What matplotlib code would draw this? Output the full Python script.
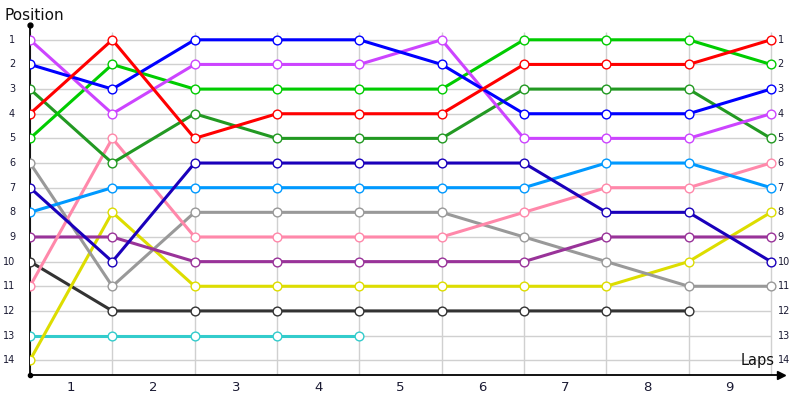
import matplotlib
matplotlib.use("Agg")
import matplotlib.pyplot as plt
import numpy as np

laps = list(range(10))
lap_labels = ["1", "2", "3", "4", "5", "6", "7", "8", "9"]
positions = list(range(1, 15))

red = [4, 1, 5, 4, 4, 4, 2, 2, 2, 1]
blue = [2, 3, 1, 1, 1, 2, 4, 4, 4, 3]
violet = [1, 4, 2, 2, 2, 1, 5, 5, 5, 4]
green = [5, 2, 3, 3, 3, 3, 1, 1, 1, 2]
dark_green = [3, 6, 4, 5, 5, 5, 3, 3, 3, 5]
gray = [6, 11, 8, 8, 8, 8, 9, 10, 11, 11]
dark_blue = [7, 10, 6, 6, 6, 6, 6, 8, 8, 10]
light_blue = [8, 7, 7, 7, 7, 7, 7, 6, 6, 7]
purple = [9, 9, 10, 10, 10, 10, 10, 9, 9, 9]
pink = [11, 5, 9, 9, 9, 9, 8, 7, 7, 6]
black = [10, 12, 12, 12, 12, 12, 12, 12, 12]
yellow = [14, 8, 11, 11, 11, 11, 11, 11, 10, 8]
cyan = [13, 13, 13, 13, 13]

series = [
    (cyan, "#33cccc"),
    (black, "#333333"),
    (yellow, "#dddd00"),
    (gray, "#999999"),
    (purple, "#993399"),
    (pink, "#ff88aa"),
    (light_blue, "#0099ff"),
    (dark_blue, "#1a00bb"),
    (dark_green, "#229922"),
    (green, "#00cc00"),
    (violet, "#cc44ff"),
    (blue, "#0000ff"),
    (red, "#ff0000"),
]

fig = plt.figure(figsize=(8, 4), dpi=100)
ax = fig.add_axes([0.0375, 0.0625, 0.9385, 0.875])
ax.set_xlim(0, 9.12)
ax.set_ylim(14.6, 0.4)

# grid
ax.hlines(positions, 0, 9, colors="#d0d0d0", linewidth=1, zorder=1)
ax.vlines(laps, 0.68, 14.6, colors="#d0d0d0", linewidth=1, zorder=1)

for vals, col in series:
    x = laps[:len(vals)]
    ax.plot(x, vals, color=col, linewidth=2.2, zorder=3, solid_capstyle="round")
    ax.plot(x, vals, linestyle="none", marker="o", markersize=6.3,
            markerfacecolor="white", markeredgecolor=col, markeredgewidth=1,
            zorder=4)

for s in ["top", "right"]:
    ax.spines[s].set_visible(False)
ax.spines["left"].set_linewidth(1.3)
ax.spines["bottom"].set_linewidth(1.3)

ax.set_xticks([])
ax.set_yticks([])

# tick labels
for i, lab in enumerate(lap_labels):
    ax.text(i + 0.5, 14.6 + 0.52, lab, ha="center", va="center",
            fontsize=9.5, color="#1a1a33", clip_on=False)
for p in positions:
    ax.text(-0.18, p, str(p), ha="right", va="center", fontsize=7,
            color="#1a1a33", clip_on=False)
    ax.text(9.08, p, str(p), ha="left", va="center", fontsize=7,
            color="#1a1a33", clip_on=False)

# axis decorations
ax.plot([0], [0.4], marker="o", markersize=3.5, color="black", clip_on=False, zorder=5)
ax.plot([0], [14.6], marker="o", markersize=3, color="black", clip_on=False, zorder=5)
ax.plot([9.12], [14.6], marker=">", markersize=5.5, color="black", clip_on=False, zorder=5)

fig.text(4 / 800, 1 - 15 / 400, "Position", ha="left", va="center",
         fontsize=11, color="#111111")
ax.text(9.05, 14.0, "Laps", ha="right", va="center", fontsize=10.5,
        color="#111111", clip_on=False)

fig.savefig("out.png", dpi=100)
